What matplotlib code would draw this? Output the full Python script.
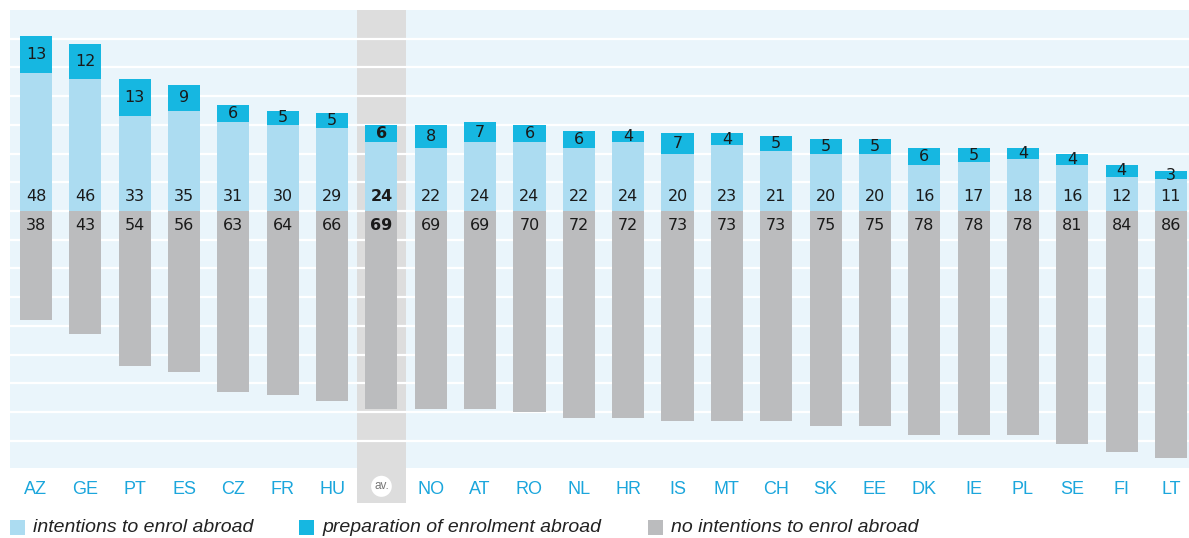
import matplotlib.pyplot as plt
from matplotlib.patches import Rectangle, Ellipse

countries = ['AZ', 'GE', 'PT', 'ES', 'CZ', 'FR', 'HU', 'av.', 'NO', 'AT', 'RO', 'NL',
             'HR', 'IS', 'MT', 'CH', 'SK', 'EE', 'DK', 'IE', 'PL', 'SE', 'FI', 'LT']
intentions = [48, 46, 33, 35, 31, 30, 29, 24, 22, 24, 24, 22, 24, 20, 23, 21, 20, 20, 16, 17, 18, 16, 12, 11]
preparation = [13, 12, 13, 9, 6, 5, 5, 6, 8, 7, 6, 6, 4, 7, 4, 5, 5, 5, 6, 5, 4, 4, 4, 3]
no_intentions = [38, 43, 54, 56, 63, 64, 66, 69, 69, 69, 70, 72, 72, 73, 73, 73, 75, 75, 78, 78, 78, 81, 84, 86]

c_int = '#acdcf1'
c_prep = '#16b7e1'
c_no = '#bbbcbe'
c_bg = '#eaf5fb'
c_band = '#dddddd'
c_tick = '#1ba6dc'

plt.rcParams['font.family'] = ['Liberation Sans', 'DejaVu Sans']

fig = plt.figure(figsize=(11.89, 5.38), dpi=100)
ax = fig.add_axes([10 / 1189, 70 / 538, 1179 / 1189, 458 / 538])
ax.set_facecolor(c_bg)

x = list(range(len(countries)))
av = countries.index('av.')
ax.set_xlim(-0.527, 23.365)
ax.set_ylim(-89.5, 70)

# highlighted band for the average, reaching down over the tick label
band = Rectangle((av - 0.5, -0.077), 1.0, 1.077, transform=ax.get_xaxis_transform(),
                 facecolor=c_band, edgecolor='none', zorder=0.5, clip_on=False)
ax.add_patch(band)

# white gridlines every 10 units
for g in range(-80, 70, 10):
    ax.axhline(g, color='white', lw=1.6, zorder=1)

w = 0.65
ax.bar(x, intentions, width=w, color=c_int, zorder=2)
ax.bar(x, preparation, width=w, bottom=intentions, color=c_prep, zorder=2)
ax.bar(x, [-v for v in no_intentions], width=w, color=c_no, zorder=2)

num_font = dict(fontsize=11.5, family='DejaVu Sans', color='#1a1a1a', zorder=3,
                ha='center', va='center')
for i in x:
    fw = 'bold' if i == av else 'normal'
    ax.text(i, 5, str(intentions[i]), fontweight=fw, **num_font)
    ax.text(i, intentions[i] + preparation[i] / 2, str(preparation[i]), fontweight=fw, **num_font)
    ax.text(i, -5, str(no_intentions[i]), fontweight=fw, **num_font)

for s in ax.spines.values():
    s.set_visible(False)
ax.set_yticks([])
ax.set_xticks(x)
ax.set_xticklabels(['' if c == 'av.' else c for c in countries], color=c_tick, fontsize=13)
ax.tick_params(axis='x', length=0, pad=9)

# "av." label in a white circle
ax.add_patch(Ellipse((av, -0.04), 0.42, 0.046, transform=ax.get_xaxis_transform(),
                     facecolor='white', edgecolor='none', clip_on=False, zorder=3))
ax.text(av, -0.04, 'av.', transform=ax.get_xaxis_transform(), ha='center', va='center',
        fontsize=8.5, color='#777777', zorder=4)

# legend
legend_items = [('intentions to enrol abroad', c_int, 10),
                ('preparation of enrolment abroad', c_prep, 299),
                ('no intentions to enrol abroad', c_no, 648)]
for label, col, px in legend_items:
    fig.patches.append(Rectangle((px / 1189, 3 / 538), 15 / 1189, 15 / 538,
                                 transform=fig.transFigure, facecolor=col, edgecolor='none'))
    fig.text((px + 23) / 1189, 10 / 538, label, fontsize=14, style='italic',
             color='#222222', va='center', ha='left')

fig.savefig('out.png', dpi=100)
